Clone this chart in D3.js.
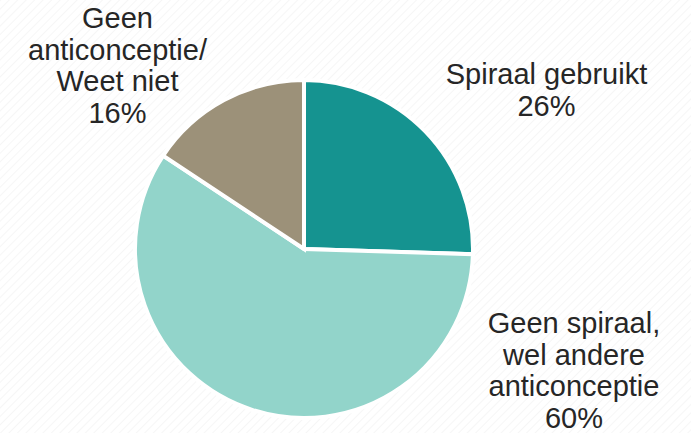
<!DOCTYPE html>
<html><head><meta charset="utf-8">
<script src="https://cdn.jsdelivr.net/npm/d3@7"></script>
<style>html,body{margin:0;padding:0;background:#fff;}svg{display:block;}</style>
</head><body>
<svg id="chart" width="691" height="433"></svg>
<script>
const categories = ["Spiraal gebruikt", "Geen spiraal, wel andere anticonceptie", "Geen anticonceptie/ Weet niet"];
const values = [26, 60, 16];
const colors = ["#159390", "#92d4ca", "#9c9179"];
const labelLines = [
  ["Spiraal gebruikt", "26%"],
  ["Geen spiraal,", "wel andere", "anticonceptie", "60%"],
  ["Geen", "anticonceptie/", "Weet niet", "16%"]
];
const labelPos = [[546.5, 84], [574, 333], [117.5, 28]];

const svg = d3.select("#chart");
const defs = svg.append("defs");
const pat = defs.append("pattern").attr("id","hatch").attr("patternUnits","userSpaceOnUse")
  .attr("width",6).attr("height",6).attr("patternTransform","rotate(45)");
pat.append("line").attr("x1",0).attr("y1",0).attr("x2",0).attr("y2",6)
  .attr("stroke","#f3f3f3").attr("stroke-width",1.5);
svg.append("rect").attr("width",691).attr("height",433).attr("fill","#fff");
svg.append("rect").attr("width",691).attr("height",433).attr("fill","url(#hatch)");

const cx = 304, cy = 249, r = 169;
const pie = d3.pie().sort(null).value(d => d);
const arc = d3.arc().innerRadius(0).outerRadius(r);
const g = svg.append("g").attr("transform", `translate(${cx},${cy})`);
g.selectAll("path").data(pie(values)).join("path")
  .attr("d", arc)
  .attr("fill", (d,i) => colors[i])
  .attr("stroke", "#fff").attr("stroke-width", 4).attr("stroke-linejoin","miter");

const lh = 31.7;
labelLines.forEach((lines, i) => {
  const t = svg.append("text")
    .attr("x", labelPos[i][0]).attr("y", labelPos[i][1])
    .attr("text-anchor", "middle")
    .attr("font-family", "'Liberation Sans', Arial, sans-serif")
    .attr("font-size", 29).attr("fill", "#262626");
  lines.forEach((l, j) => {
    t.append("tspan").attr("x", labelPos[i][0]).attr("y", labelPos[i][1] + j*lh).text(l);
  });
});
</script>
</body></html>
